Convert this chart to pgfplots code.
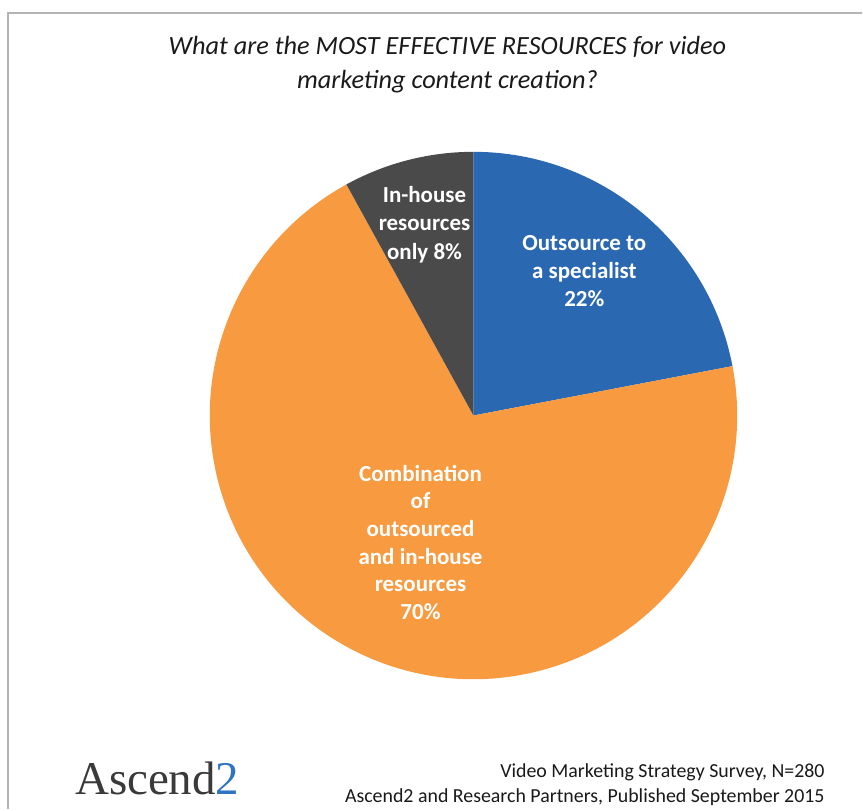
\documentclass[border=0pt]{standalone}
\usepackage{pgfplots}
\pgfplotsset{compat=1.18}
\usepackage{pgfplotstable}
\usepackage{fontspec}
\setmainfont{Carlito}
\newfontfamily\logofont{Liberation Serif}
\definecolor{pieblue}{HTML}{2A68B2}
\definecolor{pieorange}{HTML}{F89A3F}
\definecolor{piegrey}{HTML}{4A4A4A}
\definecolor{bordergrey}{HTML}{B4B4B4}
\definecolor{logogrey}{HTML}{3A3A3A}
\definecolor{logoblue}{HTML}{2E74C0}
\definecolor{txt}{HTML}{1A1A1A}

\pgfplotstableread{
share
22
70
8
}\piedata
\pgfplotstablegetelem{0}{share}\of\piedata \global\let\sA\pgfplotsretval
\pgfplotstablegetelem{1}{share}\of\piedata \global\let\sB\pgfplotsretval
\pgfplotstablegetelem{2}{share}\of\piedata \global\let\sC\pgfplotsretval

\begin{document}
\begin{tikzpicture}
\begin{axis}[width=863pt,height=810pt,scale only axis,
  xmin=0,xmax=863,ymin=0,ymax=810,hide axis,clip=false]
\fill[white] (axis cs:0,0) rectangle (axis cs:863,810);
\draw[bordergrey,line width=2pt] (axis cs:8,0) -- (axis cs:8,797) -- (axis cs:863,797);
% pie: centre (474,394), radius 264
\fill[pieblue] (axis cs:474,394) -- ++(90:264pt)
  arc[start angle=90, end angle={90-3.6*\sA}, radius=264pt] -- cycle;
\fill[pieorange] (axis cs:474,394) -- ++({90-3.6*\sA}:264pt)
  arc[start angle={90-3.6*\sA}, end angle={90-3.6*(\sA+\sB)}, radius=264pt] -- cycle;
\fill[piegrey] (axis cs:474,394) -- ++({90-3.6*(\sA+\sB)}:264pt)
  arc[start angle={90-3.6*(\sA+\sB)}, end angle={90-3.6*(\sA+\sB+\sC)}, radius=264pt] -- cycle;
% title
\node[align=center, text=txt, font=\itshape\fontsize{26.3}{34}\selectfont]
  at (axis cs:448,745) {What are the MOST EFFECTIVE RESOURCES for video\\marketing content creation?};
% slice labels
\node[align=center, text=white, font=\bfseries\fontsize{23}{28.5}\selectfont]
  at (axis cs:425,585) {In-house\\resources\\only 8\%};
\node[align=center, text=white, font=\bfseries\fontsize{23}{28}\selectfont]
  at (axis cs:585,539) {Outsource to\\a specialist\\22\%};
\node[align=center, text=white, font=\bfseries\fontsize{23}{27.6}\selectfont]
  at (axis cs:421,267) {Combination\\of\\outsourced\\and in-house\\resources\\70\%};
% footer
\node[align=right, anchor=east, text=txt, font=\fontsize{19.9}{25}\selectfont]
  at (axis cs:829,24) {Video Marketing Strategy Survey, N=280\\Ascend2 and Research Partners, Published September 2015};
\node[anchor=base west, inner sep=0pt, font=\logofont\fontsize{47}{47}\selectfont]
  at (axis cs:75,15) {\textcolor{logogrey}{Ascend}\textcolor{logoblue}{2}};
\end{axis}
\end{tikzpicture}
\end{document}
